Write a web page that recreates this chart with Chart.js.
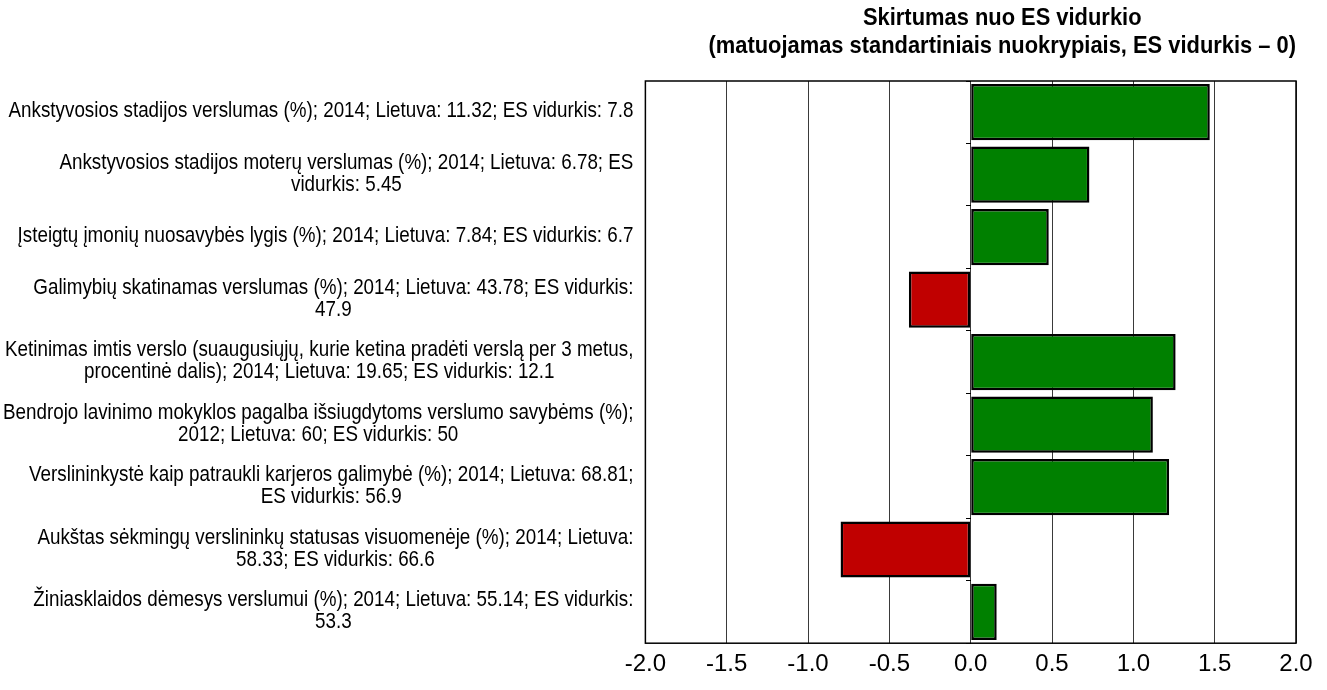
<!DOCTYPE html>
<html>
<head>
<meta charset="utf-8">
<script src="https://cdn.jsdelivr.net/npm/chart.js@4/dist/chart.umd.min.js"></script>
<style>
  html, body { margin: 0; padding: 0; background: #fff; }
  #wrap { width: 1327px; height: 690px; position: relative; }
</style>
</head>
<body>
<div id="wrap"><canvas id="c"></canvas></div>
<script>
// ---- data ----
const titleLines = [
  "Skirtumas nuo ES vidurkio",
  "(matuojamas standartiniais nuokrypiais, ES vidurkis \u2013 0)"
];
const categoryLines = [
  ["Ankstyvosios stadijos verslumas (%); 2014; Lietuva: 11.32; ES vidurkis: 7.8"],
  ["Ankstyvosios stadijos moterų verslumas (%); 2014; Lietuva: 6.78; ES", "vidurkis: 5.45"],
  ["Įsteigtų įmonių nuosavybės lygis (%); 2014; Lietuva: 7.84; ES vidurkis: 6.7"],
  ["Galimybių skatinamas verslumas (%); 2014; Lietuva: 43.78; ES vidurkis:", "47.9"],
  ["Ketinimas imtis verslo (suaugusiųjų, kurie ketina pradėti verslą per 3 metus,", "procentinė dalis); 2014; Lietuva: 19.65; ES vidurkis: 12.1"],
  ["Bendrojo lavinimo mokyklos pagalba išsiugdytoms verslumo savybėms (%);", "2012; Lietuva: 60; ES vidurkis: 50"],
  ["Verslininkystė kaip patraukli karjeros galimybė (%); 2014; Lietuva: 68.81;", "ES vidurkis: 56.9"],
  ["Aukštas sėkmingų verslininkų statusas visuomenėje (%); 2014; Lietuva:", "58.33; ES vidurkis: 66.6"],
  ["Žiniasklaidos dėmesys verslumui (%); 2014; Lietuva: 55.14; ES vidurkis:", "53.3"]
];
const diffValues = [1.47, 0.73, 0.48, -0.38, 1.26, 1.12, 1.22, -0.80, 0.16];
const axisMin = -2.0;
const axisMax = 2.0;
const axisStep = 0.5;

// ---- styles ----
const FAMILY = "'Liberation Sans', Arial, sans-serif";
const LABEL_FONT = "22px " + FAMILY;
const LABEL_SX = 0.855;
const LABEL_LH = 22;
const LABEL_GAP = 12;
const TITLE_FONT = "bold 24px " + FAMILY;
const TITLE_SX = 0.912;
const POS_COLOR = "#008000";
const NEG_COLOR = "#C00000";

function drawScaledText(ctx, text, x, y, sx) {
  ctx.save();
  ctx.translate(x, y);
  ctx.scale(sx, 1);
  ctx.fillText(text, 0, 0);
  ctx.restore();
}

const blockTextPlugin = {
  id: 'blockText',
  afterDraw(chart) {
    const { ctx, chartArea, scales } = chart;
    const yScale = scales.y;
    ctx.save();
    ctx.fillStyle = '#000';
    ctx.textAlign = 'center';
    ctx.textBaseline = 'middle';
    // category labels: right-aligned blocks, lines centred within block
    ctx.font = LABEL_FONT;
    categoryLines.forEach((lines, i) => {
      const cy = yScale.getPixelForTick(i) - 1;
      const blockW = Math.max(...lines.map(l => ctx.measureText(l).width * LABEL_SX));
      const cx = chartArea.left - LABEL_GAP - blockW / 2;
      lines.forEach((line, j) => {
        const ly = cy + (j - (lines.length - 1) / 2) * LABEL_LH;
        drawScaledText(ctx, line, cx, ly, LABEL_SX);
      });
    });
    // title: right-aligned to the plot, lines centred
    ctx.font = TITLE_FONT;
    const tW = Math.max(...titleLines.map(l => ctx.measureText(l).width * TITLE_SX));
    const tcx = chartArea.right - tW / 2;
    titleLines.forEach((line, j) => {
      drawScaledText(ctx, line, tcx, chartArea.top - 63 + j * 28, TITLE_SX);
    });
    // plot frame
    ctx.strokeStyle = '#000';
    ctx.lineWidth = 1.5;
    ctx.strokeRect(chartArea.left, chartArea.top, chartArea.right - chartArea.left, chartArea.bottom - chartArea.top);
    ctx.restore();
  }
};

const ctx = document.getElementById('c');
new Chart(ctx, {
  type: 'bar',
  data: {
    labels: categoryLines.map(l => l.join(' ')),
    datasets: [{
      data: diffValues,
      backgroundColor: diffValues.map(v => v >= 0 ? POS_COLOR : NEG_COLOR),
      borderColor: '#000',
      borderWidth: 2.5,
      borderSkipped: false,
      barPercentage: 0.9,
      categoryPercentage: 1.0
    }]
  },
  options: {
    indexAxis: 'y',
    responsive: true,
    maintainAspectRatio: false,
    animation: false,
    layout: { padding: { left: 3, right: 31, top: 81, bottom: 4 } },
    plugins: {
      legend: { display: false },
      title: { display: false },
      tooltip: { enabled: false }
    },
    scales: {
      x: {
        type: 'linear',
        min: axisMin,
        max: axisMax,
        ticks: {
          stepSize: axisStep,
          color: '#000',
          padding: 7,
          font: { family: FAMILY, size: 24 },
          callback: (v) => Number(v).toFixed(1)
        },
        grid: { color: '#3a3a3a', lineWidth: 1, drawTicks: false },
        border: { display: false }
      },
      y: {
        type: 'category',
        position: 'left',
        grid: { display: false },
        border: { display: false },
        ticks: { display: false },
        afterFit(scale) {
          const c = scale.ctx;
          c.save();
          c.font = LABEL_FONT;
          let w = 0;
          categoryLines.forEach(lines => lines.forEach(l => { w = Math.max(w, c.measureText(l).width * LABEL_SX); }));
          c.restore();
          scale.width = w + LABEL_GAP;
        }
      },
      y2: {
        type: 'category',
        axis: 'y',
        position: { x: 0 },
        offset: true,
        grid: { offset: true, drawOnChartArea: false, drawTicks: true, tickLength: 5, color: '#000', lineWidth: 1 },
        border: { display: false },
        ticks: { display: false }
      }
    }
  },
  plugins: [blockTextPlugin]
});
</script>
</body>
</html>
